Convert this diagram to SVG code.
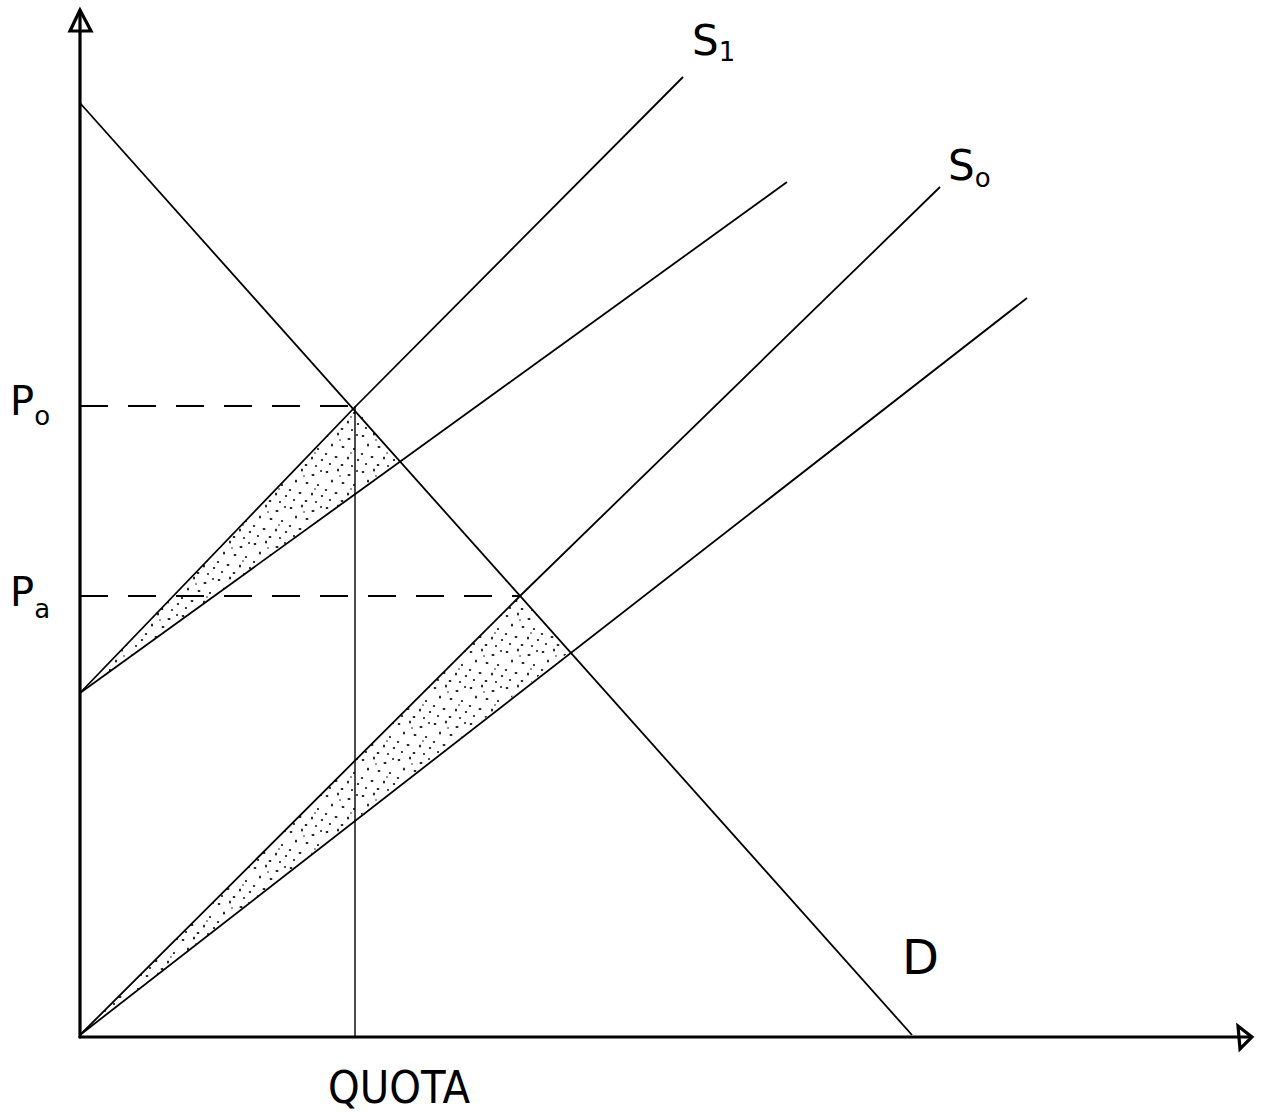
<svg xmlns="http://www.w3.org/2000/svg" width="1268" height="1116" viewBox="0 0 1268 1116">
<style>
.ax{stroke:#000;stroke-width:3.2;fill:none;stroke-linecap:round}
.ln{stroke:#000;stroke-width:1.8;fill:none;stroke-linejoin:round}
.thin{stroke:#000;stroke-width:1.4;fill:none}
.dash{stroke:#000;stroke-width:2;fill:none;stroke-dasharray:28 20}
.lab{font-family:"DejaVu Sans","Liberation Sans",sans-serif;fill:#000}
.stip{fill:url(#dots);stroke:none}
</style>
<defs>
<pattern id="dots" width="36" height="36" patternUnits="userSpaceOnUse">
<rect width="36" height="36" fill="#fff"/>
<g fill="#111">
<ellipse cx="3" cy="4" rx="1.4" ry="1"/>
<ellipse cx="14" cy="2" rx="1" ry="1.5"/>
<ellipse cx="25" cy="7" rx="1.6" ry="1"/>
<ellipse cx="33" cy="3" rx="1" ry="1"/>
<ellipse cx="8" cy="13" rx="1" ry="1.6"/>
<ellipse cx="19" cy="15" rx="1.5" ry="1.1"/>
<ellipse cx="30" cy="17" rx="1.1" ry="1.1"/>
<ellipse cx="2" cy="22" rx="1.2" ry="1"/>
<ellipse cx="12" cy="25" rx="1.5" ry="1.1"/>
<ellipse cx="24" cy="26" rx="1" ry="1.5"/>
<ellipse cx="34" cy="28" rx="1.2" ry="1.1"/>
<ellipse cx="6" cy="32" rx="1.1" ry="1.1"/>
<ellipse cx="18" cy="33" rx="1.4" ry="1"/>
<ellipse cx="28" cy="34" rx="1" ry="1"/>
<ellipse cx="16" cy="8" rx="0.8" ry="0.8"/>
<ellipse cx="27" cy="21" rx="0.8" ry="0.8"/>
</g>
</pattern>
</defs>

<g id="shading">
<polygon id="shade-upper" class="stip" points="80,693 355,407 400,462"/>
<polygon id="shade-lower" class="stip" points="80,1035 520,596 568,653"/>
</g>

<g id="axes">
<line class="ax" x1="80" y1="14" x2="80" y2="1037"/>
<line class="ax" x1="80" y1="1037" x2="1250" y2="1037"/>
<path class="ax" d="M80,10 L70,31 L91,31 Z"/>
<path class="ax" d="M1252,1037 L1238,1026 L1240,1049 Z"/>
</g>

<g id="connectors">
<line id="demand" class="ln" x1="80" y1="103" x2="912" y2="1035"/>
<polyline id="s1" class="ln" points="80,693 355,407 683,77"/>
<line id="s1-inner" class="ln" x1="80" y1="693" x2="787" y2="182"/>
<polyline id="s0" class="ln" points="80,1035 520,596 940,187"/>
<line id="s0-lower" class="ln" x1="80" y1="1035" x2="1027" y2="298"/>
<line id="po-dash" class="dash" x1="80" y1="406" x2="355" y2="406"/>
<line id="pa-dash" class="dash" x1="80" y1="596" x2="520" y2="596"/>
<line id="quota-line" class="thin" x1="355" y1="406" x2="355" y2="1037"/>
</g>

<g id="label-po"><text class="lab" x="10" y="415" font-size="40">P<tspan font-size="26" dy="10">o</tspan></text></g>
<g id="label-pa"><text class="lab" x="10" y="606" font-size="40">P<tspan font-size="26" dy="12">a</tspan></text></g>
<g id="label-s1"><text class="lab" x="692" y="55" font-size="42">S<tspan font-size="26" dy="6">1</tspan></text></g>
<g id="label-s0"><text class="lab" x="948" y="180" font-size="42">S<tspan font-size="26" dy="7">o</tspan></text></g>
<g id="label-d"><text class="lab" x="902" y="974" font-size="48">D</text></g>
<g id="label-quota"><text class="lab" x="328" y="1103" font-size="44" textLength="142" lengthAdjust="spacingAndGlyphs">QUOTA</text></g>
</svg>
